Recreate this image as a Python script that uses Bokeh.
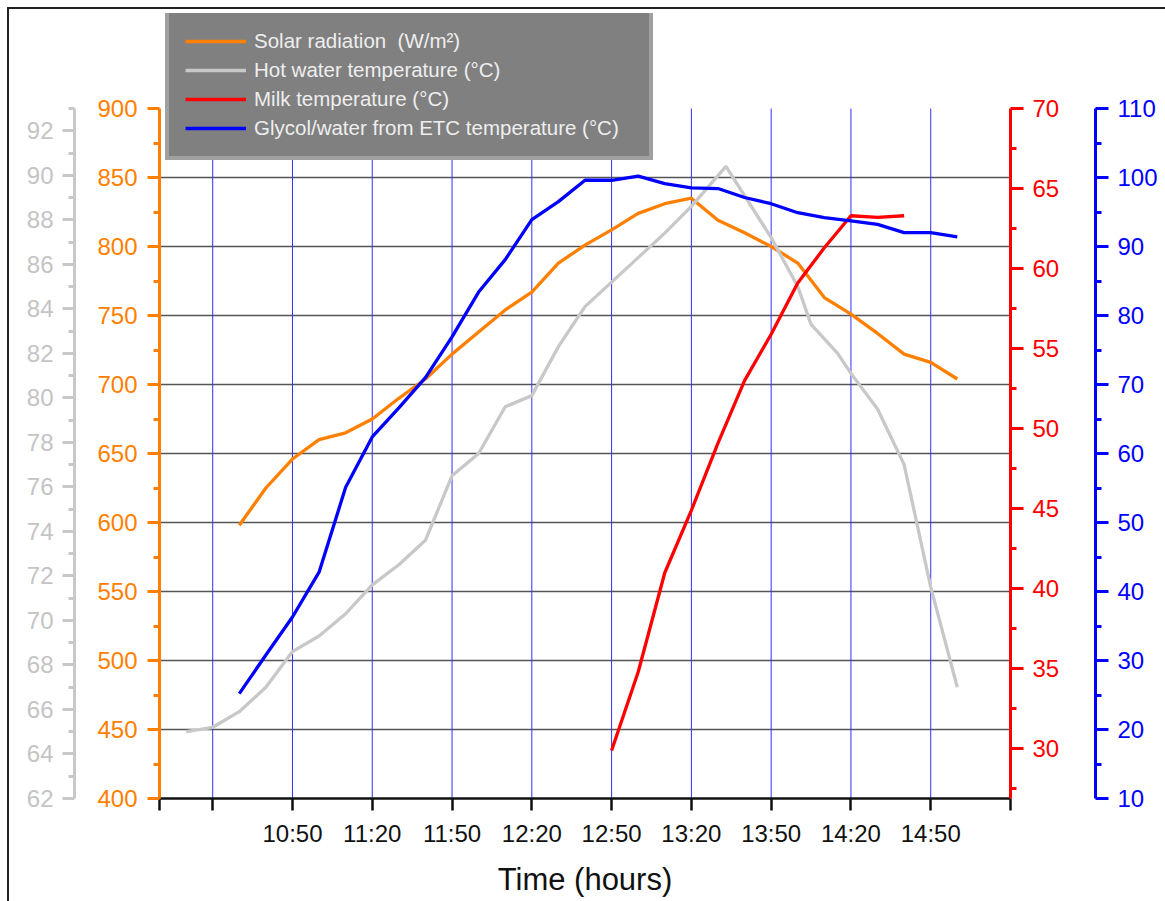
from bokeh.plotting import figure
from bokeh.models import Range1d, LinearAxis, FixedTicker, Legend, LegendItem
from bokeh.embed import file_html
from bokeh.resources import INLINE

# ---------------- data ----------------
solar_times = ["10:30", "10:40", "10:50", "11:00", "11:10", "11:20", "11:30", "11:40", "11:50",
               "12:00", "12:10", "12:20", "12:30", "12:40", "12:50", "13:00", "13:10", "13:20",
               "13:30", "13:40", "13:50", "14:00", "14:10", "14:20", "14:30", "14:40", "14:50", "15:00"]
solar = [598, 625, 646, 660, 665, 675, 690, 704, 722, 738, 754, 767, 788, 801, 812, 824, 831, 835,
         819, 810, 800, 788, 763, 751, 737, 722, 716, 704]

hot_times = ["10:10", "10:20", "10:30", "10:40", "10:50", "11:00", "11:10", "11:20", "11:30", "11:40",
             "11:50", "12:00", "12:10", "12:20", "12:30", "12:40", "12:50", "13:00", "13:10", "13:20",
             "13:33", "13:50", "14:00", "14:05", "14:15", "14:20", "14:30", "14:40", "14:50", "15:00"]
hot_water = [65.0, 65.2, 65.9, 67.0, 68.6, 69.3, 70.3, 71.6, 72.5, 73.6,
             76.5, 77.5, 79.6, 80.1, 82.3, 84.1, 85.2, 86.3, 87.4, 88.6,
             90.4, 87.2, 85.0, 83.3, 82.0, 81.1, 79.5, 77.0, 71.5, 67.0]

milk_times = ["12:50", "13:00", "13:10", "13:20", "13:30", "13:40", "13:50", "14:00", "14:10",
              "14:20", "14:30", "14:40"]
milk = [29.9, 34.8, 41.0, 44.9, 49.1, 53.0, 55.9, 59.1, 61.3, 63.3, 63.2, 63.3]

glycol_times = ["10:30", "10:40", "10:50", "11:00", "11:10", "11:20", "11:30", "11:40", "11:50",
                "12:00", "12:10", "12:20", "12:30", "12:40", "12:50", "13:00", "13:10", "13:20",
                "13:30", "13:40", "13:50", "14:00", "14:10", "14:20", "14:30", "14:40", "14:50", "15:00"]
glycol = [25.2, 30.8, 36.3, 42.8, 55.1, 62.4, 66.6, 71.0, 76.9, 83.4, 88.1, 93.9, 96.5, 99.6,
          99.6, 100.2, 99.1, 98.5, 98.4, 97.1, 96.2, 94.9, 94.2, 93.7, 93.2, 92.0, 92.0, 91.4]

x_tick_times = ["10:00", "10:20", "10:50", "11:20", "11:50", "12:20", "12:50", "13:20", "13:50",
                "14:20", "14:50", "15:20"]
x_tick_labels = ["", "", "10:50", "11:20", "11:50", "12:20", "12:50", "13:20", "13:50",
                 "14:20", "14:50", ""]

labels = ["Solar radiation  (W/m\u00b2)", "Hot water temperature (\u00b0C)",
          "Milk temperature (\u00b0C)", "Glycol/water from ETC temperature (\u00b0C)"]

# axis extents (bottom, top)
solar_lim = (400, 900)
hot_lim = (62, 93)
milk_lim = (26.9, 70)
glycol_lim = (10, 110)

ORANGE = "#ff8000"
GRAY = "#c8c8c8"
RED = "#ff0000"
BLUE = "#0000ff"
FONT = "Liberation Sans"

AXIS_PX = 690      # height of the axes' extent in pixels
EXTRA_PX = 95      # free frame area above the axes (room for the legend)


def to_min(t):
    h, m = t.split(":")
    return (int(h) - 10) * 60 + int(m)


def ext_range(lim):
    lo, hi = lim
    return Range1d(lo, hi + (hi - lo) * EXTRA_PX / AXIS_PX)


p = figure(frame_width=851, frame_height=AXIS_PX + EXTRA_PX,
           min_border_left=150, min_border_right=155, min_border_top=99 - EXTRA_PX,
           min_border_bottom=103,
           x_range=Range1d(0, 320), y_range=ext_range(solar_lim),
           output_backend="svg", toolbar_location=None)
p.margin = (7, 0, 0, 7)
p.styles = {"border-top": "2px solid #222", "border-left": "2px solid #222"}
p.extra_y_ranges = {"gray": ext_range(hot_lim), "red": ext_range(milk_lim),
                    "blue": ext_range(glycol_lim)}
p.outline_line_color = None
p.background_fill_color = "white"
p.border_fill_color = "white"


def style_axis(ax, color, ticks, minor, bounds, label_color=None, lw=3, tick_out=12):
    ax.ticker = FixedTicker(ticks=ticks, minor_ticks=minor)
    ax.bounds = bounds
    ax.axis_line_color = color
    ax.axis_line_width = lw
    ax.major_tick_line_color = color
    ax.major_tick_line_width = lw
    ax.minor_tick_line_color = color
    ax.minor_tick_line_width = lw
    ax.major_tick_in = 0
    ax.major_tick_out = tick_out
    ax.minor_tick_in = 0
    ax.minor_tick_out = 6
    ax.major_label_text_color = label_color or color
    ax.major_label_text_font = FONT
    ax.major_label_text_font_size = "24px"
    ax.major_label_standoff = 9


# orange (default left axis, nearest to frame)
ya = p.yaxis[0]
style_axis(ya, ORANGE, list(range(400, 901, 50)), list(range(425, 900, 50)), solar_lim)
ya.major_label_standoff = 10
ya.axis_label = " "
ya.axis_label_text_font_size = "1px"
ya.axis_label_standoff = 16

# gray (outer left)
gray_ax = LinearAxis(y_range_name="gray")
style_axis(gray_ax, GRAY, list(range(62, 93, 2)), list(range(63, 94, 2)), hot_lim,
           label_color="#c4c4c4")
p.add_layout(gray_ax, "left")

# red (inner right)
red_ax = LinearAxis(y_range_name="red")
style_axis(red_ax, RED, list(range(30, 71, 5)), [27.5 + 5 * i for i in range(9)], milk_lim,
           tick_out=13)
red_ax.axis_label = " "
red_ax.axis_label_text_font_size = "1px"
red_ax.axis_label_standoff = 29
p.add_layout(red_ax, "right")

# blue (outer right)
blue_ax = LinearAxis(y_range_name="blue")
style_axis(blue_ax, BLUE, list(range(10, 111, 10)), list(range(15, 110, 10)), glycol_lim,
           tick_out=13)
p.add_layout(blue_ax, "right")

# x axis
xa = p.xaxis[0]
xt = [to_min(t) for t in x_tick_times]
xa.ticker = FixedTicker(ticks=xt, minor_ticks=[])
xa.major_label_overrides = {m: lab for m, lab in zip(xt, x_tick_labels)}
xa.axis_line_color = "#111111"
xa.axis_line_width = 2.5
xa.major_tick_line_color = "#111111"
xa.major_tick_line_width = 2.5
xa.major_tick_in = 0
xa.major_tick_out = 12
xa.major_label_text_font = FONT
xa.major_label_text_font_size = "24px"
xa.major_label_text_color = "#111111"
xa.major_label_standoff = 9
xa.axis_label = "Time (hours)"
xa.axis_label_text_font = FONT
xa.axis_label_text_font_size = "31px"
xa.axis_label_text_font_style = "normal"
xa.axis_label_text_color = "#111111"
xa.axis_label_standoff = 12

# grids
p.xgrid.grid_line_color = None
grid_x = xt[1:-1]
p.segment(x0=grid_x, y0=[solar_lim[0]] * len(grid_x), x1=grid_x, y1=[solar_lim[1]] * len(grid_x),
          line_color="#3030ff", line_width=1)
p.ygrid.ticker = FixedTicker(ticks=list(range(450, 851, 50)))
p.ygrid.grid_line_color = "#555555"
p.ygrid.grid_line_width = 1.5

# lines
r1 = p.line([to_min(t) for t in solar_times], solar, line_color=ORANGE, line_width=3.3)
r2 = p.line([to_min(t) for t in hot_times], hot_water, line_color=GRAY, line_width=3.3,
            y_range_name="gray")
r3 = p.line([to_min(t) for t in milk_times], milk, line_color=RED, line_width=3.3,
            y_range_name="red")
r4 = p.line([to_min(t) for t in glycol_times], glycol, line_color=BLUE, line_width=3.3,
            y_range_name="blue")

legend = Legend(items=[LegendItem(label=labels[0], renderers=[r1]),
                       LegendItem(label=labels[1], renderers=[r2]),
                       LegendItem(label=labels[2], renderers=[r3]),
                       LegendItem(label=labels[3], renderers=[r4])],
                location=(6, 638))
legend.background_fill_color = "#808080"
legend.background_fill_alpha = 1
legend.border_line_color = "#c0c0c0"
legend.border_line_width = 4
legend.label_text_color = "#eeeeee"
legend.label_text_font = FONT
legend.label_text_font_size = "20.5px"
legend.glyph_width = 61
legend.glyph_height = 20
legend.label_height = 20
legend.label_width = 379
legend.spacing = 5
legend.padding = 16
legend.margin = 0
legend.label_standoff = 8
p.add_layout(legend)

open("out.html", "w").write(file_html(p, INLINE))
